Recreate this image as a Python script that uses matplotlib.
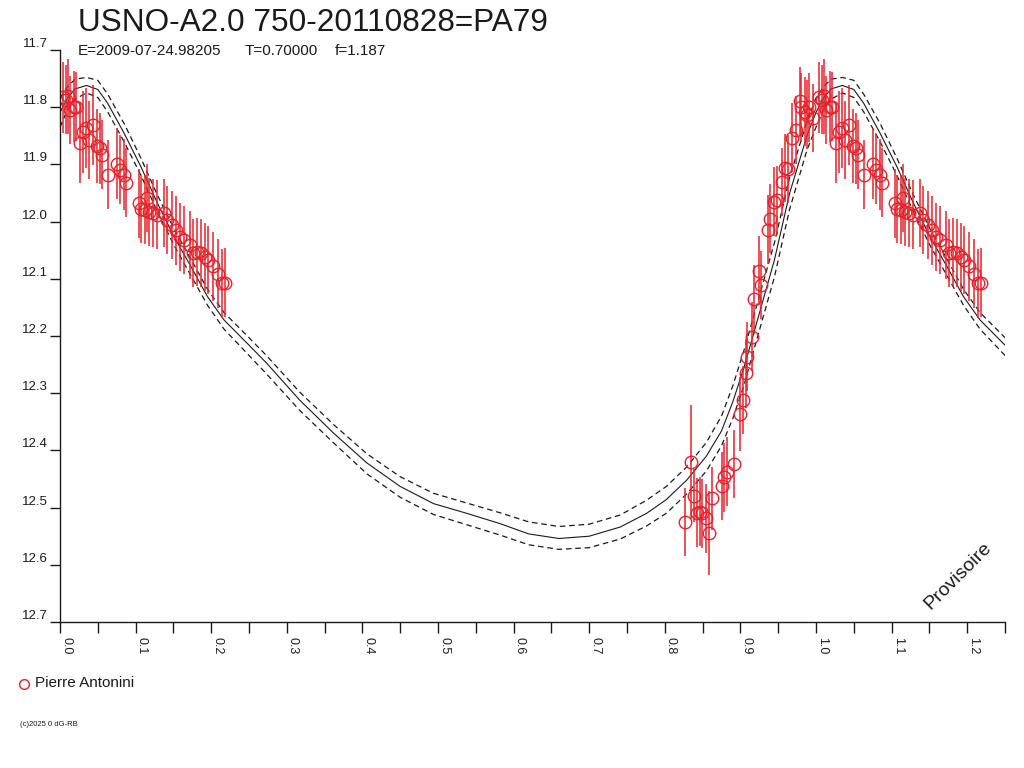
import matplotlib
matplotlib.use("agg")
from matplotlib import pyplot as plt
from matplotlib.lines import Line2D
from matplotlib.ticker import MultipleLocator, FormatStrFormatter
import numpy as np

plt.rcParams["font.family"] = ["Liberation Sans", "DejaVu Sans"]

title = "USNO-A2.0 750-20110828=PA79"
subtitle = ["E=2009-07-24.98205", "T=0.70000", "f=1.187"]
observer = "Pierre Antonini"
footer = "(c)2025 0 dG-RB"

# observations: phase, magnitude, error
obs_phase = [
    0.004, 0.008, 0.011, 0.013, 0.018, 0.021, 0.026, 0.031, 0.035, 0.039,
    0.043, 0.049, 0.053, 0.056, 0.063, 0.075, 0.079, 0.084, 0.087, 0.104,
    0.107, 0.112, 0.115, 0.118, 0.123, 0.128, 0.137, 0.142, 0.148, 0.153,
    0.159, 0.164, 0.172, 0.176, 0.181, 0.187, 0.192, 0.196, 0.203, 0.209,
    0.214, 0.218,
    0.827, 0.835, 0.838, 0.842, 0.846, 0.849, 0.854, 0.859, 0.863, 0.875,
    0.878, 0.882, 0.892, 0.899, 0.903, 0.907, 0.909, 0.915, 0.918, 0.924,
    0.927, 0.936, 0.939, 0.944, 0.949, 0.955, 0.959, 0.963, 0.968, 0.974,
    0.979, 0.980, 0.985, 0.988, 0.991, 0.996,
]
obs_mag = [
    11.783, 11.787, 11.781, 11.805, 11.799, 11.799, 11.862, 11.843, 11.837, 11.858,
    11.831, 11.868, 11.872, 11.883, 11.918, 11.899, 11.909, 11.918, 11.932, 11.968,
    11.978, 11.979, 11.959, 11.983, 11.985, 11.988, 11.985, 11.997, 12.006, 12.015,
    12.027, 12.032, 12.041, 12.055, 12.053, 12.055, 12.062, 12.067, 12.078, 12.091,
    12.108, 12.107,
    12.525, 12.420, 12.479, 12.509, 12.507, 12.510, 12.519, 12.544, 12.484, 12.462,
    12.447, 12.437, 12.424, 12.336, 12.312, 12.265, 12.236, 12.201, 12.136, 12.086,
    12.111, 12.014, 11.995, 11.965, 11.963, 11.931, 11.906, 11.908, 11.853, 11.840,
    11.790, 11.800, 11.808, 11.813, 11.800, 11.819,
]
obs_err = [
    0.062, 0.060, 0.065, 0.060, 0.062, 0.060, 0.070, 0.072, 0.070, 0.068,
    0.070, 0.065, 0.062, 0.060, 0.060, 0.062, 0.060, 0.062, 0.060, 0.060,
    0.060, 0.060, 0.060, 0.060, 0.060, 0.060, 0.060, 0.060, 0.060, 0.060,
    0.060, 0.060, 0.060, 0.060, 0.060, 0.060, 0.060, 0.060, 0.060, 0.060,
    0.060, 0.060,
    0.060, 0.100, 0.046, 0.060, 0.060, 0.060, 0.060, 0.073, 0.055, 0.060,
    0.060, 0.060, 0.060, 0.065, 0.060, 0.060, 0.060, 0.060, 0.060, 0.060,
    0.060, 0.060, 0.060, 0.060, 0.060, 0.060, 0.060, 0.060, 0.060, 0.060,
    0.060, 0.060, 0.060, 0.060, 0.060, 0.060,
]

# model light curve over one cycle, with upper/lower envelopes
model_phase = [
    0.000, 0.010, 0.020, 0.035, 0.050, 0.063, 0.085, 0.107, 0.129, 0.151,
    0.173, 0.195, 0.217, 0.250, 0.273, 0.317, 0.362, 0.406, 0.450, 0.494,
    0.538, 0.582, 0.620, 0.660, 0.700, 0.741, 0.776, 0.802, 0.829, 0.855,
    0.875, 0.890, 0.905, 0.920, 0.945, 0.965, 0.988, 1.000,
]
model_mag = [
    11.809, 11.784, 11.768, 11.762, 11.769, 11.793, 11.846, 11.904, 11.968, 12.027,
    12.078, 12.131, 12.172, 12.216, 12.247, 12.312, 12.370, 12.422, 12.463, 12.493,
    12.510, 12.528, 12.546, 12.554, 12.550, 12.534, 12.510, 12.486, 12.452, 12.410,
    12.366, 12.315, 12.254, 12.184, 12.067, 11.951, 11.850, 11.809,
]
model_hi = [
    11.784, 11.764, 11.751, 11.748, 11.753, 11.777, 11.829, 11.889, 11.954, 12.013,
    12.065, 12.118, 12.159, 12.203, 12.234, 12.298, 12.355, 12.406, 12.446, 12.475,
    12.492, 12.509, 12.525, 12.533, 12.529, 12.513, 12.487, 12.463, 12.429, 12.386,
    12.340, 12.287, 12.224, 12.154, 12.037, 11.923, 11.825, 11.784,
]
model_lo = [
    11.835, 11.804, 11.786, 11.775, 11.783, 11.808, 11.861, 11.919, 11.983, 12.042,
    12.094, 12.146, 12.188, 12.234, 12.266, 12.330, 12.387, 12.441, 12.482, 12.512,
    12.530, 12.548, 12.565, 12.573, 12.570, 12.555, 12.532, 12.510, 12.476, 12.436,
    12.392, 12.344, 12.285, 12.214, 12.097, 11.979, 11.875, 11.835,
]

red = "#e8222a"
ink = "#1a1a1a"
xmax = 1.25

fig = plt.figure(figsize=(10.24, 7.68), dpi=100)
ax = fig.add_axes([60 / 1024, 1 - 622 / 768, 945 / 1024, 572 / 768])

# two cycles of the model
mp = np.concatenate([model_phase, np.array(model_phase) + 1])
ax.plot(mp, model_mag + model_mag, color=ink, lw=0.8)
ax.plot(mp, model_hi + model_hi, color=ink, lw=0.9, ls=(0, (4.5, 3)))
ax.plot(mp, model_lo + model_lo, color=ink, lw=0.9, ls=(0, (4.5, 3)))

# observations repeated one cycle later
op = np.array(obs_phase)
om = np.array(obs_mag)
oe = np.array(obs_err)
shifted = op + 1 <= xmax
px = np.concatenate([op, op[shifted] + 1])
pm = np.concatenate([om, om[shifted]])
pe = np.concatenate([oe, oe[shifted]])
ax.errorbar(px, pm, yerr=pe, fmt="none", ecolor=red, elinewidth=1.1, capsize=0)
ax.plot(px, pm, "o", mfc="none", mec=red, mew=1.0, ms=9, ls="none")

ax.set_xlim(0, xmax)
ax.set_ylim(12.7, 11.7)
for side in ("top", "right"):
    ax.spines[side].set_visible(False)
for side in ("left", "bottom"):
    ax.spines[side].set_color(ink)
    ax.spines[side].set_linewidth(1.0)

ax.xaxis.set_major_locator(MultipleLocator(0.1))
ax.xaxis.set_minor_locator(MultipleLocator(0.05))
ax.xaxis.set_major_formatter(FormatStrFormatter("%.1f"))
ax.yaxis.set_major_locator(MultipleLocator(0.1))
ax.yaxis.set_major_formatter(FormatStrFormatter("%.1f"))
ax.tick_params(axis="x", which="both", direction="out", length=8, width=1,
               color=ink, labelsize=9, labelcolor=ink, pad=3)
ax.tick_params(axis="y", direction="out", length=7, width=1,
               color=ink, labelsize=9.5, labelcolor=ink, pad=2)
for lbl in ax.get_xticklabels():
    lbl.set_rotation(270)
    lbl.set_ha("left")
    lbl.set_va("top")
for lbl in ax.get_yticklabels():
    lbl.set_va("bottom")

fig.text(78 / 1024, 1 - 31 / 768, title, fontsize=22.7, color=ink, va="baseline")
for x, part in zip([78, 245, 335], subtitle):
    fig.text(x / 1024, 1 - 55 / 768, part, fontsize=11, color=ink, va="baseline")
fig.text(958 / 1024, 1 - 576 / 768, "Provisoire", fontsize=14, color=ink,
         rotation=45, ha="center", va="center")

fig.add_artist(Line2D([24 / 1024], [1 - 684 / 768], marker="o", ms=7, mfc="none",
                      mec=red, mew=1.0, ls="none", transform=fig.transFigure))
fig.text(35 / 1024, 1 - 683 / 768, observer, fontsize=11, color=ink, va="center")
fig.text(20 / 1024, 1 - 725 / 768, footer, fontsize=5.5, color=ink, va="center")

fig.savefig("out.png", dpi=100, facecolor="white")
